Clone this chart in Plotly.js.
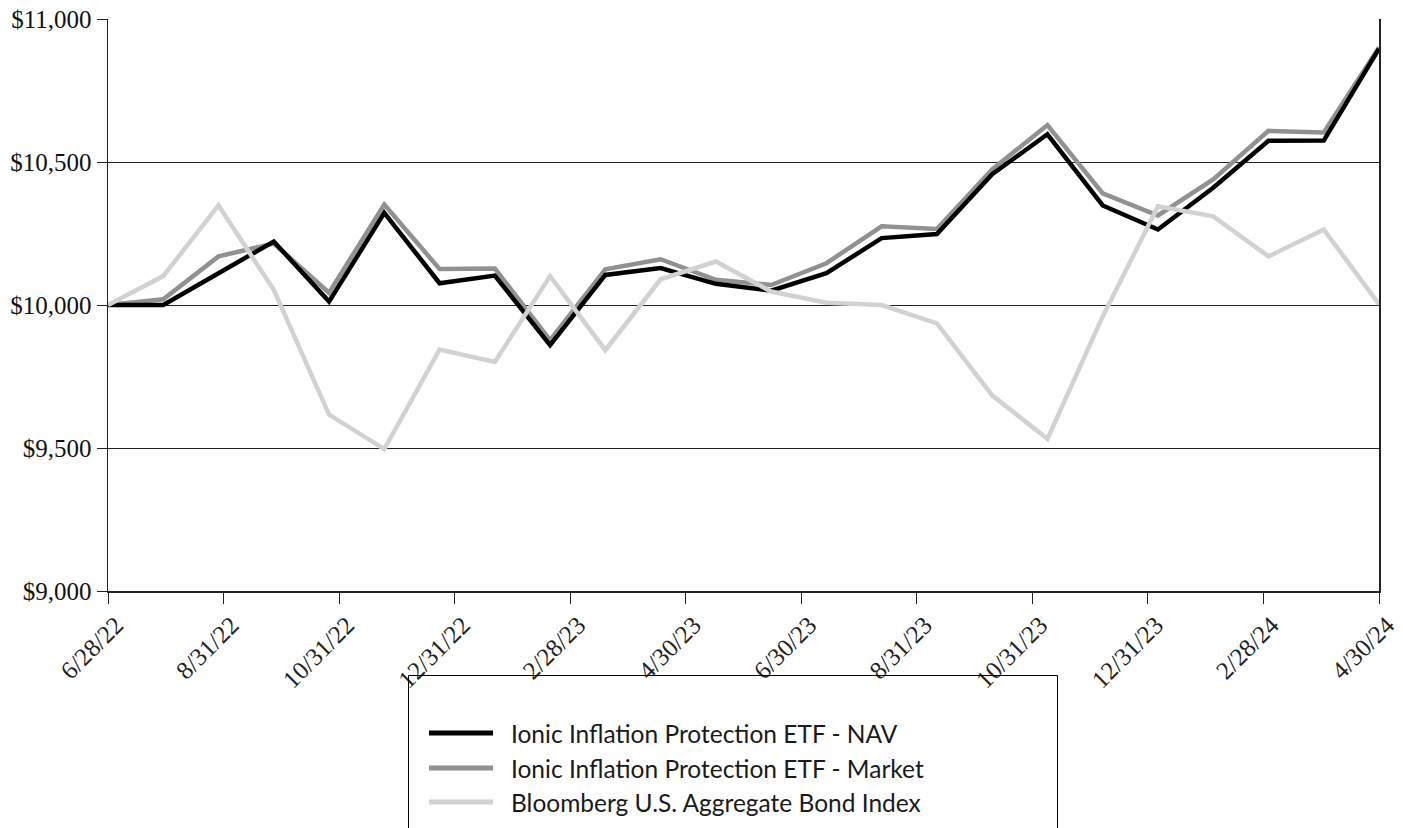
<!DOCTYPE html>
<html>
<head>
<meta charset="utf-8">
<script src="https://cdn.plot.ly/plotly-3.0.1.min.js"></script>
<style>
  html, body { margin: 0; padding: 0; background: #fff; }
  #chart { width: 1403px; height: 828px; }
</style>
</head>
<body>
<div id="chart"></div>
<script>
// ---- data ----
const dates = ['6/28/22','6/30/22','7/31/22','8/31/22','9/30/22','10/31/22','11/30/22','12/31/22',
               '1/31/23','2/28/23','3/31/23','4/30/23','5/31/23','6/30/23','7/31/23','8/31/23',
               '9/30/23','10/31/23','11/30/23','12/31/23','1/31/24','2/29/24','3/31/24','4/30/24'];
const navValues = [10000, 10000, 10111, 10222, 10012, 10322, 10076, 10103, 9860, 10105, 10129, 10074,
                   10050, 10111, 10234, 10248, 10457, 10597, 10348, 10264, 10410, 10574, 10575, 10896];
const marketValues = [10000, 10020, 10170, 10215, 10043, 10351, 10126, 10128, 9877, 10125, 10160, 10088,
                      10070, 10146, 10275, 10266, 10474, 10629, 10390, 10313, 10439, 10609, 10603, 10900];
const bondValues = [10000, 10101, 10348, 10053, 9617, 9496, 9844, 9801, 10101, 9842, 10090, 10152,
                    10047, 10008, 10000, 9936, 9684, 9532, 9960, 10345, 10310, 10170, 10264, 10003];
const tickLabels = ['6/28/22','8/31/22','10/31/22','12/31/22','2/28/23','4/30/23',
                    '6/30/23','8/31/23','10/31/23','12/31/23','2/28/24','4/30/24'];
const seriesNames = ['Ionic Inflation Protection ETF - NAV',
                     'Ionic Inflation Protection ETF - Market',
                     'Bloomberg U.S. Aggregate Bond Index'];
const seriesColors = ['#000000', '#919194', '#d1d2d4'];

// ---- geometry ----
const W = 1403, H = 828;
const M = { l: 108, r: 24, t: 19, b: 237 };
const PW = W - M.l - M.r, PH = H - M.t - M.b;
const px2x = p => (p - M.l) / PW;
const py2y = p => (H - M.b - p) / PH;

const idx = dates.map((_, i) => i);
const nLast = dates.length - 1;
const tickVals = tickLabels.map((_, k) => k * nLast / (tickLabels.length - 1));

const valuesBySeries = [navValues, marketValues, bondValues];
const drawOrder = [1, 0, 2];
const traces = drawOrder.map(s => ({
  type: 'scatter', mode: 'lines',
  x: idx, y: valuesBySeries[s],
  name: seriesNames[s],
  text: dates,
  hovertemplate: '%{text}: $%{y:,.0f}<extra>' + seriesNames[s] + '</extra>',
  line: { color: seriesColors[s], width: 4.5, shape: 'linear' },
  showlegend: false
}));

// ---- custom legend (box, sample lines, labels) ----
const shapes = [{
  type: 'rect', xref: 'paper', yref: 'paper',
  x0: px2x(408.5), x1: px2x(1057.5), y0: py2y(845), y1: py2y(675.5),
  line: { color: '#000', width: 1 }, fillcolor: 'rgba(0,0,0,0)', layer: 'above'
}];
const annotations = [];
const rowY = [733, 768, 802];
seriesNames.forEach((name, s) => {
  shapes.push({
    type: 'line', xref: 'paper', yref: 'paper',
    x0: px2x(429), x1: px2x(493), y0: py2y(rowY[s]), y1: py2y(rowY[s]),
    line: { color: seriesColors[s], width: 5 }
  });
  annotations.push({
    xref: 'paper', yref: 'paper', x: px2x(509), y: py2y(rowY[s]),
    xanchor: 'left', yanchor: 'middle', showarrow: false,
    text: name, font: { family: 'Lato, sans-serif', size: 24.5, color: '#1a1a1a' }
  });
});

const layout = {
  width: W, height: H,
  margin: M,
  paper_bgcolor: '#fff', plot_bgcolor: '#fff',
  showlegend: false,
  xaxis: {
    type: 'linear', range: [0, nLast],
    tickmode: 'array', tickvals: tickVals, ticktext: tickLabels,
    tickangle: -45, ticks: 'outside', ticklen: 11, tickwidth: 1, tickcolor: '#222',
    ticklabelshift: 8, ticklabelstandoff: -3,
    showgrid: false, zeroline: false,
    showline: true, linecolor: '#222', linewidth: 1.5, mirror: false,
    tickfont: { family: 'Liberation Serif, Times New Roman, serif', size: 25, color: '#222' }
  },
  yaxis: {
    range: [9000, 11000], dtick: 500, tick0: 9000,
    tickformat: '$,.0f',
    ticks: 'outside', ticklen: 10, tickwidth: 1, tickcolor: '#222',
    showgrid: true, gridcolor: '#222', gridwidth: 1,
    zeroline: false,
    showline: true, linecolor: '#222', linewidth: 1.5, mirror: true,
    tickfont: { family: 'Liberation Serif, Times New Roman, serif', size: 25, color: '#111' }
  },
  shapes: shapes,
  annotations: annotations
};

Plotly.newPlot('chart', traces, layout, { displayModeBar: false, staticPlot: true });
</script>
</body>
</html>
